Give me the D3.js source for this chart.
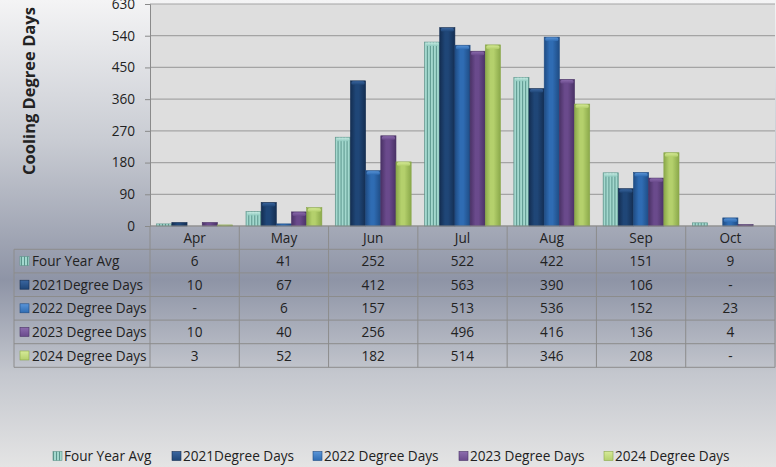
<!DOCTYPE html>
<html lang="en">
<head>
    <meta charset="UTF-8">
    <title>Cooling Degree Days</title>
    <script src="https://d3js.org/d3.v7.min.js"></script>
    <style>
        * { margin: 0; padding: 0; box-sizing: border-box; }
        html, body { width: 776px; height: 467px; overflow: hidden; }
        svg { display: block; font-family: "Open Sans", sans-serif; }
    </style>
</head>
<body>
<svg id="chart" width="776" height="467"></svg>
<script>
    const months = [ "Apr", "May", "Jun", "Jul", "Aug", "Sep", "Oct" ]
    const seriesNames = [ "Four Year Avg", "2021Degree Days", "2022 Degree Days", "2023 Degree Days", "2024 Degree Days" ]
    const fourYearAvg = [ 6, 41, 252, 522, 422, 151, 9 ]
    const dd2021 = [ 10, 67, 412, 563, 390, 106, null ]
    const dd2022 = [ null, 6, 157, 513, 536, 152, 23 ]
    const dd2023 = [ 10, 40, 256, 496, 416, 136, 4 ]
    const dd2024 = [ 3, 52, 182, 514, 346, 208, null ]
    const yTicks = [ 0, 90, 180, 270, 360, 450, 540, 630 ]

    const seriesValues = [ fourYearAvg, dd2021, dd2022, dd2023, dd2024 ]
    // base, light, dark
    const colors = [
        [ "#8fcabf", "#c8ece4", "#5f968c" ],
        [ "#1f4677", "#3a66a0", "#142e52" ],
        [ "#2f6cb3", "#5a95d8", "#1f4c84" ],
        [ "#6a4a8c", "#8c6cae", "#4a3266" ],
        [ "#b4d06c", "#d6ea98", "#8aa84a" ],
    ]

    const W = 776, H = 467
    const plotLeft = 150, plotRight = 775, plotTop = 4, plotBottom = 226
    const tableLeft = 14, rowH = 23.6, headerH = 23.3
    const fs = 13.6

    const svg = d3.select("#chart")
    const defs = svg.append("defs")

    // page background
    const bg = defs.append("linearGradient").attr("id", "bg")
        .attr("x1", 0).attr("y1", 0).attr("x2", 0).attr("y2", 1)
    bg.append("stop").attr("offset", "0%").attr("stop-color", "#f4f4f5")
    bg.append("stop").attr("offset", "30%").attr("stop-color", "#c9ccd3")
    bg.append("stop").attr("offset", "60%").attr("stop-color", "#8e94a6")
    bg.append("stop").attr("offset", "80%").attr("stop-color", "#c4c7ce")
    bg.append("stop").attr("offset", "100%").attr("stop-color", "#e4e4e4")
    svg.append("rect").attr("width", W).attr("height", H).attr("fill", "url(#bg)")

    colors.forEach((c, i) => {
        const g = defs.append("linearGradient").attr("id", `bar${i}`)
            .attr("x1", 0).attr("y1", 0).attr("x2", 1).attr("y2", 0)
        g.append("stop").attr("offset", "0%").attr("stop-color", c[2])
        g.append("stop").attr("offset", "35%").attr("stop-color", c[0])
        g.append("stop").attr("offset", "55%").attr("stop-color", c[0])
        g.append("stop").attr("offset", "100%").attr("stop-color", c[2])
        const cap = defs.append("linearGradient").attr("id", `cap${i}`)
            .attr("x1", 0).attr("y1", 0).attr("x2", 0).attr("y2", 1)
        cap.append("stop").attr("offset", "0%").attr("stop-color", c[1])
        cap.append("stop").attr("offset", "100%").attr("stop-color", c[0])
    })
    // vertical stripes for the average series
    const pat = defs.append("pattern").attr("id", "stripes")
        .attr("patternUnits", "userSpaceOnUse").attr("width", 3).attr("height", 10)
    pat.append("rect").attr("width", 3).attr("height", 10).attr("fill", "#a3d8ce")
    pat.append("rect").attr("width", 1).attr("height", 10).attr("fill", "#5a948b")

    const x0 = d3.scaleBand().domain(months).range([ plotLeft, plotRight ])
    const bw = x0.bandwidth()
    const x1 = d3.scaleBand().domain(seriesNames).range([ bw * 0.075, bw * 0.925 ])
    const y = d3.scaleLinear().domain([ 0, 630 ]).range([ plotBottom, plotTop ])

    // plot area
    svg.append("rect").attr("x", plotLeft).attr("y", plotTop)
        .attr("width", plotRight - plotLeft).attr("height", plotBottom - plotTop).attr("fill", "#dedede")

    svg.append("g").selectAll("line").data(yTicks).join("line")
        .attr("x1", plotLeft).attr("x2", plotRight)
        .attr("y1", d => y(d)).attr("y2", d => y(d))
        .attr("stroke", "#a4a4a4").attr("stroke-width", 1.2)

    const yAxis = svg.append("g").attr("transform", `translate(${plotLeft},0)`)
        .call(d3.axisLeft(y).tickValues(yTicks).tickSize(5).tickPadding(10))
    yAxis.select(".domain").attr("stroke", "#8a8a8a")
    yAxis.selectAll(".tick line").attr("stroke", "#8a8a8a")
    yAxis.selectAll("text").attr("font-size", fs).attr("fill", "#222")
        .attr("font-family", "'Open Sans', sans-serif")

    svg.append("text")
        .attr("transform", `translate(35,91) rotate(-90)`)
        .attr("text-anchor", "middle")
        .attr("font-size", 16.5).attr("font-weight", "bold").attr("fill", "#222")
        .text("Cooling Degree Days")

    // bars
    const groups = svg.append("g").selectAll("g").data(months).join("g")
        .attr("transform", d => `translate(${x0(d)},0)`)
    groups.each(function (m, mi) {
        const data = seriesNames.map((s, si) => ({ s, si, v: seriesValues[si][mi] }))
            .filter(d => d.v !== null)
        const g = d3.select(this)
        g.selectAll("rect.bar").data(data).join("rect").attr("class", "bar")
            .attr("x", d => x1(d.s)).attr("width", x1.bandwidth())
            .attr("y", d => y(d.v)).attr("height", d => y(0) - y(d.v))
            .attr("fill", d => d.si === 0 ? "url(#stripes)" : `url(#bar${d.si})`)
            .attr("stroke", d => colors[d.si][2]).attr("stroke-width", 0.6)
        g.selectAll("rect.cap").data(data.filter(d => y(0) - y(d.v) > 5)).join("rect").attr("class", "cap")
            .attr("x", d => x1(d.s) + 1).attr("width", x1.bandwidth() - 2)
            .attr("y", d => y(d.v) + 0.5).attr("height", 3.5)
            .attr("rx", 1.5)
            .attr("fill", d => `url(#cap${d.si})`).attr("opacity", 0.9)
    })

    // x axis line
    svg.append("line").attr("x1", plotLeft).attr("x2", plotRight)
        .attr("y1", plotBottom).attr("y2", plotBottom).attr("stroke", "#8a8a8a").attr("stroke-width", 1.2)

    // data table
    const tableTop = plotBottom + headerH
    const tableBottom = tableTop + rowH * seriesNames.length
    const lineColor = "#8c8c8c"
    const tbl = svg.append("g")
    // vertical lines at column boundaries
    const bounds = months.map(m => x0(m)).concat([ plotRight ])
    tbl.selectAll("line.v").data(bounds).join("line").attr("class", "v")
        .attr("x1", d => d).attr("x2", d => d)
        .attr("y1", plotBottom).attr("y2", tableBottom)
        .attr("stroke", lineColor)
    tbl.append("line").attr("x1", tableLeft).attr("x2", tableLeft)
        .attr("y1", tableTop).attr("y2", tableBottom).attr("stroke", lineColor)
    const rowLines = d3.range(seriesNames.length + 1).map(i => tableTop + i * rowH)
    tbl.selectAll("line.h").data(rowLines).join("line").attr("class", "h")
        .attr("x1", tableLeft).attr("x2", plotRight)
        .attr("y1", d => d).attr("y2", d => d)
        .attr("stroke", lineColor)

    tbl.selectAll("text.month").data(months).join("text").attr("class", "month")
        .attr("x", d => x0(d) + bw / 2).attr("y", plotBottom + headerH / 2 + 5)
        .attr("text-anchor", "middle").attr("font-size", fs).attr("fill", "#222")
        .text(d => d)

    seriesNames.forEach((s, si) => {
        const cy = tableTop + si * rowH + rowH / 2
        tbl.append("rect").attr("x", 20).attr("y", cy - 4.5).attr("width", 9).attr("height", 9)
            .attr("fill", si === 0 ? "url(#stripes)" : `url(#cap${si})`)
            .attr("stroke", colors[si][2]).attr("stroke-width", 0.6)
        tbl.append("text").attr("x", 32).attr("y", cy + 5)
            .attr("font-size", fs).attr("fill", "#222").text(s)
        tbl.selectAll(null).data(months).join("text")
            .attr("x", d => x0(d) + bw / 2).attr("y", cy + 5)
            .attr("text-anchor", "middle").attr("font-size", fs).attr("fill", "#222")
            .text((d, mi) => seriesValues[si][mi] === null ? "-" : seriesValues[si][mi])
    })

    // legend
    const legendX = [ 53, 172, 313, 459, 604 ]
    const leg = svg.append("g").selectAll("g").data(seriesNames).join("g")
        .attr("transform", (d, i) => `translate(${legendX[i]},456)`)
    leg.append("rect").attr("x", 0).attr("y", -4.5).attr("width", 9).attr("height", 9)
        .attr("fill", (d, i) => i === 0 ? "url(#stripes)" : `url(#cap${i})`)
        .attr("stroke", (d, i) => colors[i][2]).attr("stroke-width", 0.6)
    leg.append("text").attr("x", 11).attr("y", 5)
        .attr("font-size", fs).attr("fill", "#222").text(d => d)
</script>
</body>
</html>
